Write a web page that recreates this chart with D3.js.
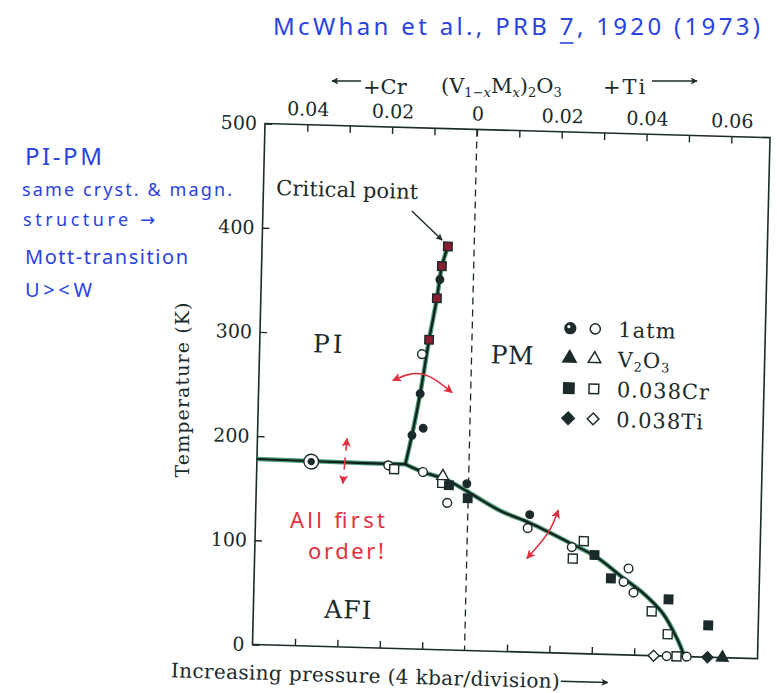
<!DOCTYPE html>
<html>
<head>
<meta charset="utf-8">
<script src="https://cdn.jsdelivr.net/npm/d3@7"></script>
<style>
  html, body { margin: 0; padding: 0; background: #fff; }
  svg { display: block; }
</style>
</head>
<body>
<svg id="chart" width="777" height="693"></svg>
<script>
// ---------------- data ----------------
// horizontal axis: doping x in (V1-xMx)2O3, Cr counted negative, Ti positive
const compTicks = [-0.04, -0.03, -0.02, -0.01, 0, 0.01, 0.02, 0.03, 0.04, 0.05, 0.06];
const compLabels = [-0.04, -0.02, 0, 0.02, 0.04, 0.06];
const pressureTicks = [-0.04, -0.03, -0.02, -0.01, 0.01, 0.02, 0.03, 0.04];
const tempTicks = [0, 100, 200, 300, 400, 500];

// phase boundaries, [x, T (K)]
const boundaryAFI_PI = [[-0.05, 178], [-0.037, 177.5], [-0.025, 177], [-0.015, 177]];
const boundaryPI_PM = [[-0.015, 177], [-0.0136, 205], [-0.0119, 245], [-0.0101, 297],
                       [-0.0085, 337], [-0.0075, 368], [-0.0062, 387]];
const boundaryAFI_PM = [[-0.015, 177], [-0.0108, 170], [-0.0051, 163], [0, 152], [0.0076, 135],
                        [0.0147, 124], [0.0242, 106], [0.0306, 93], [0.0369, 74], [0.0417, 60],
                        [0.0465, 41], [0.0499, 18], [0.0519, 0]];

// measured transitions, [x, T (K)]
const atmFilled = [[-0.0079, 355], [-0.0119, 245], [-0.0110, 212], [-0.0136, 205],
                   [-0.0004, 160], [0.0146, 132]];
const atmOpen = [[-0.0117, 283], [-0.0190, 175.5], [-0.0108, 170], [-0.0049, 141],
                 [0.0142, 119], [0.0247, 102], [0.0382, 83], [0.0371, 70], [0.0395, 60],
                 [0.0477, 0], [0.0524, 0]];
const atmRinged = [[-0.0372, 177]];
const crFilledOnLine = [[-0.0062, 387], [-0.0075, 368], [-0.0085, 337], [-0.0101, 297]];
const crFilled = [[-0.0046, 158], [-0.0001, 146], [0.0301, 95], [0.0341, 73],
                  [0.0478, 54.5], [0.0573, 30.6]];
const crOpen = [[-0.0176, 172], [-0.0062, 160], [0.0275, 108], [0.0250, 91],
                [0.0439, 42.5], [0.0478, 21], [0.0500, 0]];
const v2o3Filled = [[0.0608, 0]];
const v2o3Open = [[-0.0061, 166.5]];
const tiFilled = [[0.0573, 0]];
const tiOpen = [[0.0446, 0]];

// ---------------- drawing ----------------
const svg = d3.select("#chart");
const ink = "#1b2a2a";
const red = "#e0303e";
const blue = "#2a42e0";
const serif = "'DejaVu Serif', 'Liberation Serif', serif";
const hand = "'Noto Sans', 'DejaVu Sans', sans-serif";

const W = 505, H = 521;
const x = d3.scaleLinear().domain([-0.05, 0.0691]).range([0, W]);
const y = d3.scaleLinear().domain([0, 500]).range([H, 0]);

const defs = svg.append("defs");
function marker(id, color, w, h) {
  defs.append("marker").attr("id", id)
    .attr("viewBox", "0 0 10 10").attr("refX", 9).attr("refY", 5)
    .attr("markerWidth", w).attr("markerHeight", h)
    .attr("markerUnits", "userSpaceOnUse")
    .attr("orient", "auto-start-reverse")
    .append("path").attr("d", "M0,0 L10,5 L0,10 L2.5,5 z").attr("fill", color);
}
marker("headInk", ink, 10, 7);
marker("headRed", red, 11, 9);

// the plotting frame sits slightly sheared on the page
const plot = svg.append("g").attr("transform", "matrix(1,0.028,-0.024,1,265,123.5)");

plot.append("rect").attr("width", W).attr("height", H)
  .attr("fill", "none").attr("stroke", ink).attr("stroke-width", 1.6);

const fmt = d => d === 0 ? "0" : d3.format(".2f")(Math.abs(d));
function styleAxis(g) {
  g.select(".domain").remove();
  g.attr("font-family", serif).attr("font-size", 19).attr("color", ink);
  g.selectAll("line").attr("stroke-width", 1.4);
}
plot.append("g")
  .call(d3.axisTop(x).tickValues(compTicks).tickSizeInner(-7).tickSizeOuter(0).tickPadding(9)
    .tickFormat(d => compLabels.includes(d) ? fmt(d) : ""))
  .call(styleAxis);
plot.append("g")
  .call(d3.axisLeft(y).tickValues(tempTicks).tickSizeInner(-7).tickSizeOuter(0).tickPadding(8)
    .tickFormat(d3.format("d")))
  .call(styleAxis);
plot.append("g").attr("transform", `translate(0,${H})`)
  .call(d3.axisBottom(x).tickValues(pressureTicks).tickSizeInner(-7).tickSizeOuter(0).tickFormat(""))
  .call(styleAxis);

// undoped reference composition
plot.append("line")
  .attr("x1", x(0)).attr("x2", x(0)).attr("y1", 0).attr("y2", H)
  .attr("stroke", ink).attr("stroke-width", 1.3).attr("stroke-dasharray", "7,5");

// phase boundaries
const line = d3.line().x(d => x(d[0])).y(d => y(d[1])).curve(d3.curveCatmullRom.alpha(0.5));
const bounds = [boundaryAFI_PI, boundaryPI_PM, boundaryAFI_PM];
bounds.forEach(b => plot.append("path").attr("d", line(b)).attr("fill", "none")
  .attr("stroke", "#2f8c5e").attr("stroke-width", 4.6).attr("stroke-opacity", 0.85));
bounds.forEach(b => plot.append("path").attr("d", line(b)).attr("fill", "none")
  .attr("stroke", "#0f1f1c").attr("stroke-width", 2.2).attr("stroke-linejoin", "round"));

// data symbols
function points(data, type, size, fill, rotate = 0) {
  plot.append("g").selectAll("path").data(data).join("path")
    .attr("transform", d => `translate(${x(d[0])},${y(d[1])}) rotate(${rotate})`)
    .attr("d", d3.symbol(type, size))
    .attr("fill", fill).attr("stroke", ink).attr("stroke-width", 1.4);
}
points(atmRinged, d3.symbolCircle, 170, "#fff");
points(atmRinged, d3.symbolCircle, 28, ink);
points(atmOpen, d3.symbolCircle, 60, "#fff");
points(atmFilled, d3.symbolCircle, 45, ink);
points(crOpen, d3.symbolSquare, 80, "#fff");
points(crFilled, d3.symbolSquare, 72, ink);
points(crFilledOnLine, d3.symbolSquare, 72, "#8c1c30");
points(v2o3Open, d3.symbolTriangle, 60, "#fff");
points(v2o3Filled, d3.symbolTriangle, 60, ink);
points(tiOpen, d3.symbolSquare, 60, "#fff", 45);
points(tiFilled, d3.symbolSquare, 60, ink, 45);

// phase labels
const phaseText = (t, cx, cT, spacing) => plot.append("text")
  .attr("x", x(cx)).attr("y", y(cT)).attr("text-anchor", "middle")
  .attr("font-family", serif).attr("font-size", 25).attr("fill", ink)
  .attr("letter-spacing", spacing).text(t);
phaseText("PI", -0.0336, 282, 3);
phaseText("PM", 0.0096, 276, 0.5);
phaseText("AFI", -0.0276, 27.6, 1);

// critical point annotation
plot.append("text").attr("x", x(-0.047)).attr("y", y(431.7))
  .attr("font-family", serif).attr("font-size", 21).attr("fill", ink)
  .attr("textLength", 142).attr("lengthAdjust", "spacing").text("Critical point");
plot.append("line")
  .attr("x1", x(-0.0149)).attr("y1", y(420)).attr("x2", x(-0.0076)).attr("y2", y(393))
  .attr("stroke", ink).attr("stroke-width", 1.4).attr("marker-end", "url(#headInk)");

// legend
const legend = plot.append("g").attr("transform", "translate(310,196)");
const rowH = 30;
const legendRows = [
  { type: d3.symbolCircle, size: 95, rot: 0, label: ["1atm"] },
  { type: d3.symbolTriangle, size: 80, rot: 0, label: ["V", "2", "O", "3"] },
  { type: d3.symbolSquare, size: 110, rot: 0, label: ["0.038Cr"] },
  { type: d3.symbolSquare, size: 80, rot: 45, label: ["0.038Ti"] }
];
legendRows.forEach((r, i) => {
  const gy = i * rowH;
  legend.append("path").attr("transform", `translate(0,${gy}) rotate(${r.rot})`)
    .attr("d", d3.symbol(r.type, r.size)).attr("fill", ink).attr("stroke", ink).attr("stroke-width", 1.3);
  if (i === 0) legend.append("circle").attr("cx", -1.5).attr("cy", gy - 1.5).attr("r", 1.6).attr("fill", "#fff");
  legend.append("path").attr("transform", `translate(25,${gy}) rotate(${r.rot})`)
    .attr("d", d3.symbol(r.type, r.size * 0.85)).attr("fill", "#fff").attr("stroke", ink).attr("stroke-width", 1.5);
  const t = legend.append("text").attr("x", 48).attr("y", gy + 7.5)
    .attr("font-family", serif).attr("font-size", 21).attr("fill", ink).attr("letter-spacing", 1);
  if (r.label.length === 1) t.text(r.label[0]);
  else {
    t.append("tspan").text(r.label[0]);
    t.append("tspan").attr("font-size", 13).attr("dy", 4).text(r.label[1]);
    t.append("tspan").attr("dy", -4).text(r.label[2]);
    t.append("tspan").attr("font-size", 13).attr("dy", 4).text(r.label[3]);
  }
});

// red notes: hysteresis arrows across the boundaries
const curve3 = d3.line().x(d => x(d[0])).y(d => y(d[1])).curve(d3.curveNatural);
const redArrow = (pts, dash) => plot.append("path").attr("d", curve3(pts))
  .attr("fill", "none").attr("stroke", red).attr("stroke-width", 1.6)
  .attr("stroke-dasharray", dash || null)
  .attr("marker-start", "url(#headRed)").attr("marker-end", "url(#headRed)");
redArrow([[-0.0184, 257], [-0.0116, 264], [-0.0044, 247]]);
redArrow([[-0.0289, 200], [-0.0296, 157]], "12,7");
redArrow([[0.0213, 137], [0.0190, 115], [0.0142, 90]]);

// bottom axis title
plot.append("text").attr("x", -81).attr("y", 556)
  .attr("font-family", serif).attr("font-size", 20).attr("fill", ink)
  .attr("textLength", 389).attr("lengthAdjust", "spacing")
  .text("Increasing pressure (4 kbar/division)");
plot.append("line").attr("x1", 309).attr("y1", 549).attr("x2", 356).attr("y2", 549)
  .attr("stroke", ink).attr("stroke-width", 1.5).attr("marker-end", "url(#headInk)");

// left axis title
svg.append("text").attr("transform", "translate(189,390) rotate(-90)")
  .attr("text-anchor", "middle").attr("font-family", serif).attr("font-size", 19).attr("fill", ink)
  .attr("textLength", 175).attr("lengthAdjust", "spacing").text("Temperature (K)");

// composition title above the frame
const title = svg.append("g").attr("font-family", serif).attr("fill", ink);
title.append("line").attr("x1", 361).attr("y1", 81).attr("x2", 332).attr("y2", 81)
  .attr("stroke", ink).attr("stroke-width", 1.5).attr("marker-end", "url(#headInk)");
title.append("text").attr("x", 363).attr("y", 94).attr("font-size", 21).text("+Cr");
const formula = title.append("text").attr("x", 441).attr("y", 93).attr("font-size", 21);
formula.append("tspan").text("(V");
formula.append("tspan").attr("font-size", 13).attr("dy", 4).text("1−");
formula.append("tspan").attr("font-size", 13).attr("font-style", "italic").text("x");
formula.append("tspan").attr("dy", -4).text("M");
formula.append("tspan").attr("font-size", 13).attr("font-style", "italic").attr("dy", 4).text("x");
formula.append("tspan").attr("dy", -4).text(")");
formula.append("tspan").attr("font-size", 13).attr("dy", 4).text("2");
formula.append("tspan").attr("dy", -4).text("O");
formula.append("tspan").attr("font-size", 13).attr("dy", 4).text("3");
title.append("text").attr("x", 603).attr("y", 94).attr("font-size", 21)
  .attr("letter-spacing", 2).text("+Ti");
title.append("line").attr("x1", 652).attr("y1", 81).attr("x2", 697).attr("y2", 81)
  .attr("stroke", ink).attr("stroke-width", 1.5).attr("marker-end", "url(#headInk)");

// handwritten notes
const note = (t, x0, y0, size, len, color) => svg.append("text").attr("x", x0).attr("y", y0)
  .attr("font-family", hand).attr("font-size", size).attr("fill", color)
  .attr("textLength", len).attr("lengthAdjust", "spacing").text(t);
const ref = note("McWhan et al., PRB 7, 1920 (1973)", 273, 35, 24, 487, blue);
const k = "McWhan et al., PRB ".length;
const s0 = ref.node().getStartPositionOfChar(k), s1 = ref.node().getEndPositionOfChar(k);
svg.append("line").attr("x1", s0.x).attr("x2", s1.x).attr("y1", 43).attr("y2", 43)
  .attr("stroke", blue).attr("stroke-width", 1.6);

note("PI-PM", 25, 165, 24, 77, blue);
note("same cryst. & magn.", 22, 196, 18, 210, blue);
note("structure →", 23, 226, 18, 132, blue);
note("Mott-transition", 25, 264, 20, 163, blue);
note("U><W", 25, 297, 20, 67, blue);

note("All first", 290, 528, 22, 95, red);
note("order!", 308, 559, 22, 76, red);
</script>
</body>
</html>
